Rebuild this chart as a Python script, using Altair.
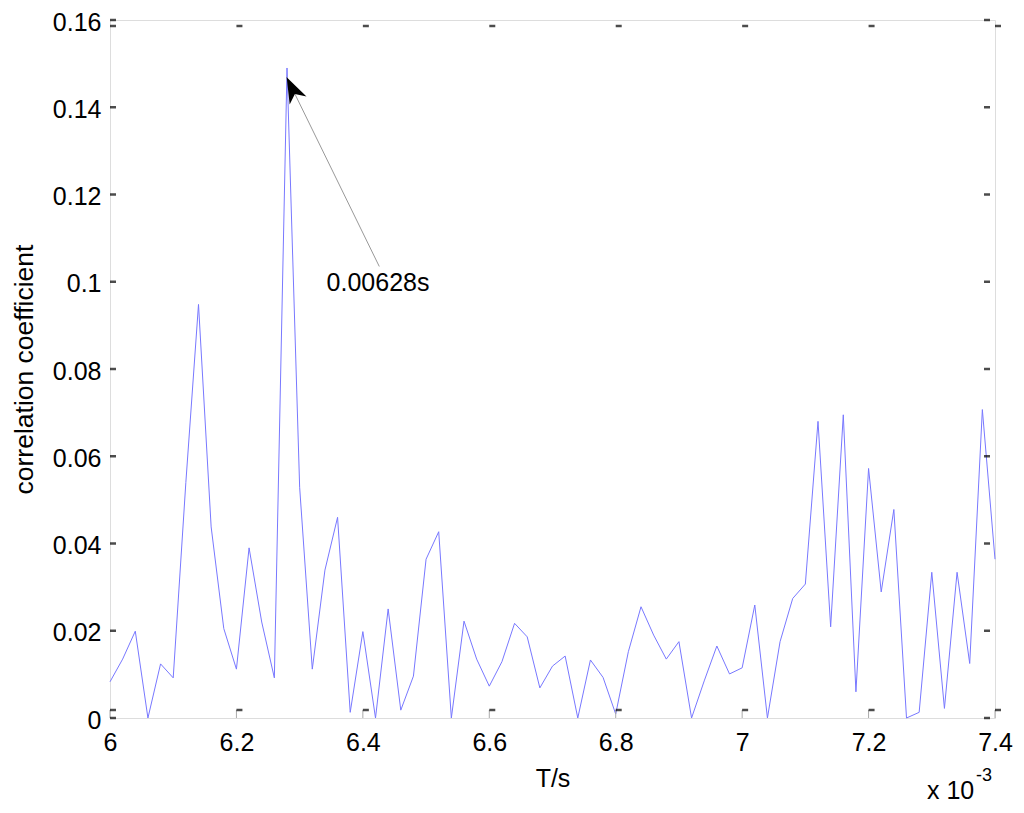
import altair as alt
import pandas as pd

# time in units of 1e-3 s
t_values = [round(6.00 + 0.02 * i, 2) for i in range(71)]
corr_values = [
    0.0083, 0.0135, 0.0199, 0.0000, 0.0124, 0.0092, 0.0540, 0.0948, 0.0438, 0.0205,
    0.0112, 0.0390, 0.0220, 0.0092, 0.1490, 0.0529, 0.0112, 0.0339, 0.0460, 0.0013,
    0.0198, 0.0000, 0.0250, 0.0018, 0.0096, 0.0364, 0.0427, 0.0000, 0.0222, 0.0135,
    0.0073, 0.0129, 0.0217, 0.0186, 0.0069, 0.0119, 0.0142, 0.0000, 0.0133, 0.0093,
    0.0009, 0.0152, 0.0255, 0.0190, 0.0135, 0.0175, 0.0000, 0.0085, 0.0165, 0.0101,
    0.0115, 0.0259, 0.0000, 0.0175, 0.0274, 0.0307, 0.0680, 0.0209, 0.0695, 0.0060,
    0.0572, 0.0289, 0.0478, 0.0000, 0.0013, 0.0334, 0.0022, 0.0334, 0.0125, 0.0707,
    0.0364,
]

x_ticks = [6.0, 6.2, 6.4, 6.6, 6.8, 7.0, 7.2, 7.4]
y_ticks = [0, 0.02, 0.04, 0.06, 0.08, 0.1, 0.12, 0.14, 0.16]

annot_text = "0.00628s"
annot_text_pos = (6.424, 0.0998)
arrow_tip = (6.2795, 0.1469)
arrow_tail = (6.426, 0.1035)

FONT = "Liberation Sans"
W, H = 885, 698

df = pd.DataFrame({"t": t_values, "c": corr_values})
xs = alt.Scale(domain=[6.0, 7.4], nice=False, zero=False)
ys = alt.Scale(domain=[0, 0.16], nice=False)

line = alt.Chart(df).mark_line(color="#7878ff", strokeWidth=1).encode(
    x=alt.X("t:Q", scale=xs,
            axis=alt.Axis(values=x_ticks, format="~g", title="T/s", tickSize=0,
                          domain=False, grid=False, labelFontSize=25, labelFont=FONT,
                          labelColor="black", labelPadding=12, titleFont=FONT,
                          titleFontSize=25, titleFontWeight="normal", titleColor="black",
                          titlePadding=11, labelFlush=False)),
    y=alt.Y("c:Q", scale=ys,
            axis=alt.Axis(values=y_ticks, format="~g", title="correlation coefficient",
                          tickSize=0, domain=False, grid=False, labelFontSize=25,
                          labelFont=FONT, labelColor="black", labelPadding=9,
                          labelOffset=2, titleFont=FONT, titleFontSize=26.5,
                          titleFontWeight="normal", titleColor="black",
                          titlePadding=14, labelFlush=False)),
)

ydf = pd.DataFrame({"v": y_ticks})
xdf = pd.DataFrame({"v": x_ticks})

ytick_left = alt.Chart(ydf).mark_tick(orient="horizontal", color="black", size=6,
                                       thickness=2.5).encode(
    y=alt.Y("v:Q", scale=ys), x=alt.value(3))
ytick_right = alt.Chart(ydf).mark_tick(orient="horizontal", color="black", size=6,
                                        thickness=2.5).encode(
    y=alt.Y("v:Q", scale=ys), x=alt.value(877))
xtick_top = alt.Chart(xdf).mark_tick(orient="horizontal", color="black", size=6,
                                      thickness=2.5, xOffset=3).encode(
    x=alt.X("v:Q", scale=xs), y=alt.value(6))
xtick_bot = alt.Chart(xdf).mark_tick(orient="horizontal", color="black", size=6,
                                      thickness=2.5, xOffset=3).encode(
    x=alt.X("v:Q", scale=xs), y=alt.value(690))
xstem_bot = alt.Chart(xdf).mark_rule(color="#aaaaaa", strokeWidth=1).encode(
    x=alt.X("v:Q", scale=xs), y=alt.value(690), y2=alt.value(698))

arrow_df = pd.DataFrame({"t": [arrow_tail[0]], "c": [arrow_tail[1]],
                         "t2": [arrow_tip[0]], "c2": [arrow_tip[1]]})
arrow_line = alt.Chart(arrow_df).mark_rule(color="#999999", strokeWidth=1).encode(
    x=alt.X("t:Q", scale=xs), y=alt.Y("c:Q", scale=ys),
    x2="t2:Q", y2="c2:Q")
head_df = pd.DataFrame({"t": [arrow_tip[0]], "c": [arrow_tip[1]]})
arrow_head = alt.Chart(head_df).mark_point(
    shape="M0,0 L0.36,1 L0,0.72 L-0.36,1 Z", filled=True, color="black",
    opacity=1, size=2704, angle=334, strokeWidth=0).encode(
    x=alt.X("t:Q", scale=xs), y=alt.Y("c:Q", scale=ys))

text_df = pd.DataFrame({"t": [annot_text_pos[0]], "c": [annot_text_pos[1]],
                        "s": [annot_text]})
annot = alt.Chart(text_df).mark_text(font=FONT, fontSize=25, color="black",
                                     align="center", baseline="middle").encode(
    x=alt.X("t:Q", scale=xs), y=alt.Y("c:Q", scale=ys), text="s:N")

exp_df = pd.DataFrame({"a": ["x 10"], "b": ["-3"]})
exp_main = alt.Chart(exp_df).mark_text(font=FONT, fontSize=25, color="black",
                                       align="left", baseline="alphabetic").encode(
    x=alt.value(817), y=alt.value(779), text="a:N")
exp_sup = alt.Chart(exp_df).mark_text(font=FONT, fontSize=18, color="black",
                                      align="left", baseline="alphabetic").encode(
    x=alt.value(866), y=alt.value(761), text="b:N")

chart = alt.layer(
    line, xstem_bot, ytick_left, ytick_right, xtick_top, xtick_bot,
    arrow_line, arrow_head, annot, exp_main, exp_sup
).properties(
    width=W, height=H,
    autosize=alt.AutoSizeParams(type="none"),
    padding={"left": 102, "top": 12, "right": 21, "bottom": 87},
).configure_view(stroke="#aaaaaa", strokeWidth=1.5).configure(background="white")

chart.save("out.html", embed_options={"renderer": "svg", "actions": False})
